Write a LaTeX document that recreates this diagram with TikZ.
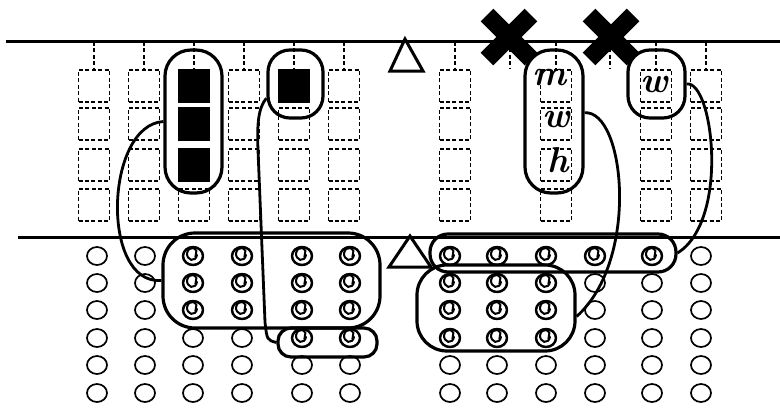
\documentclass[tikz,border=0pt]{standalone}
\usetikzlibrary{shapes.geometric}

\tikzset{
  cell/.style={draw,dash pattern=on 4pt off 2.4pt,line width=1.8pt,minimum width=31pt,minimum height=32pt,inner sep=0pt},
  stub/.style={dash pattern=on 4pt off 2.4pt,line width=1.8pt},
  dot/.style={draw,ellipse,line width=1.7pt,minimum width=20pt,minimum height=18pt,inner sep=0pt},
  grp/.style={draw,line width=3.2pt,inner sep=0pt},
  link/.style={line width=2.8pt},
  scrib/.style={line width=2pt,line cap=round},
  hand/.style={font=\fontsize{36}{36}\selectfont\bfseries\itshape,inner sep=0pt}
}

\begin{document}
\begin{tikzpicture}[x=1pt,y=-1pt]
  \useasboundingbox (0,0) rectangle (780,408);
  % Linien
  \draw[line width=3pt] (6,41) -- (780,41);
  \draw[line width=3pt] (18,237) -- (780,237);
  % Felder oben
  \foreach \c/\x in {1/94,2/144,3/194,4/244,5/294,6/344,7/455,9/556,11/656,12/706}{
    \foreach \r/\y in {1/86,2/124,3/165,4/205}
      \node[cell] (sq-\c-\r) at (\x,\y) {};
    \draw[stub] (\x,42) -- (sq-\c-1.north);
  }
  \draw[stub] (510,42) -- (510,69);
  \draw[stub] (610,42) -- (610,69);
  \foreach \c/\r in {3/1,3/2,3/3,5/1}
    \fill (sq-\c-\r.south west) rectangle (sq-\c-\r.north east);
  % Kreise unten
  \foreach \x [count=\c] in {97,145,193,242,302,350,450,497,546,595,652,701}
    \foreach \y [count=\r] in {256,283,310,338,365,393}
      \node[dot] (ci-\c-\r) at (\x,\y) {};
  \foreach \c/\r in {3/1,4/1,5/1,6/1,3/2,4/2,5/2,6/2,3/3,4/3,5/3,6/3,5/4,6/4,
                     7/1,8/1,9/1,10/1,11/1,7/2,8/2,9/2,7/3,8/3,9/3,7/4,8/4,9/4}{
    \draw[line width=2.4pt] (ci-\c-\r) ellipse [x radius=10,y radius=9];
    \draw[scrib] (ci-\c-\r.center) ++(4,-1) arc[start angle=10,end angle=330,x radius=5,y radius=6] -- ++(-1,6);
  }
  % Dreiecke und Kreuze
  \draw[line width=3pt,line join=miter] (405,39) -- (390,71) -- (423,71) -- cycle;
  \draw[line width=3pt,line join=miter] (410,236) -- (389,267) -- (431,267) -- cycle;
  \foreach \x in {509,611}{
    \draw[line width=18pt] (\x-22,15) -- (\x+22,59);
    \draw[line width=18pt] (\x-22,59) -- (\x+22,15);
  }
  % Gruppen
  \node[grp,minimum width=57pt,minimum height=143pt,rounded corners=26pt] (gA) at (193.5,121.5) {};
  \node[grp,minimum width=55pt,minimum height=68pt,rounded corners=22pt] (gB) at (295.5,84) {};
  \node[grp,minimum width=58pt,minimum height=143pt,rounded corners=26pt] (gC) at (554,121.5) {};
  \node[grp,minimum width=57pt,minimum height=68pt,rounded corners=22pt] (gD) at (656.5,84) {};
  \node[grp,minimum width=217pt,minimum height=95pt,rounded corners=32pt] (gE) at (271.5,280.5) {};
  \node[grp,minimum width=99pt,minimum height=29pt,rounded corners=13pt] (gF) at (327.5,342.5) {};
  \node[grp,minimum width=246pt,minimum height=38pt,rounded corners=18pt] (gG) at (553,253) {};
  \node[grp,minimum width=158pt,minimum height=86pt,rounded corners=30pt] (gH) at (496,308) {};
  % Handschrift
  \node[hand] (hw-1) at (549,78) {m};
  \node[hand] (hw-2) at (556,119) {w};
  \node[hand] (hw-3) at (558,160) {h};
  \node[hand] (hw-4) at (654,84) {w};
  % Verbindungen
  \draw[link] (gA.west) .. controls (105,125) and (100,285) .. (gE.west);
  \draw[link] (gB.206) .. controls (258,108) and (257,125) .. (258,150)
    -- (265,322) .. controls (267,340) .. (gF.west);
  \draw[link] (gC.16) .. controls (625,110) and (640,260) .. (gH.-6);
  \draw[link] (gD.east) .. controls (713,80) and (730,220) .. (gG.east);
\end{tikzpicture}
\end{document}
